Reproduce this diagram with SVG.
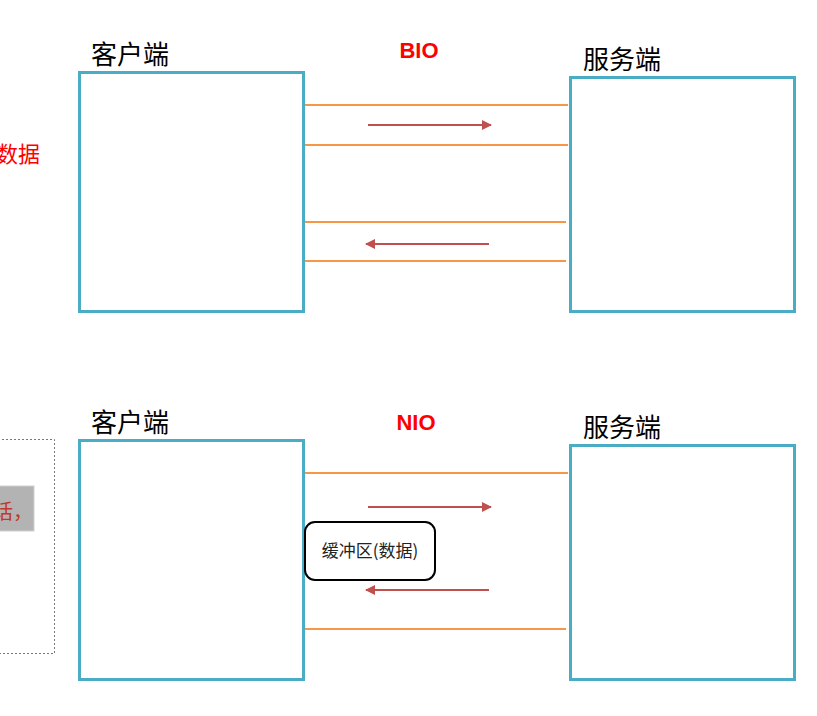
<svg xmlns="http://www.w3.org/2000/svg" width="817" height="716" viewBox="0 0 817 716">
<style>
.box{fill:#fff;stroke:#4BACC6;stroke-width:3}
.lbl{font-family:"Noto Sans CJK SC","Noto Sans",sans-serif;font-size:26px;fill:#000}
.title{font-family:"Liberation Sans","Noto Sans",sans-serif;font-weight:bold;font-size:22px;fill:#FF0000;text-anchor:middle}
.pipe{stroke:#F79646;stroke-width:2;fill:none}
.arr{stroke:#C0504D;stroke-width:2;fill:none;marker-end:url(#ah)}
</style>
<defs>
<marker id="ah" viewBox="0 0 10 10" refX="9" refY="5" markerWidth="5" markerHeight="5" orient="auto" markerUnits="strokeWidth">
<path d="M0,0 L10,5 L0,10 z" fill="#C0504D"/>
</marker>
</defs>
<rect width="817" height="716" fill="#fff"/>
<g id="side-notes">
<text x="-4" y="162" font-family="Noto Sans CJK SC,sans-serif" font-size="22" fill="#FF0000">数据</text>
<rect x="-10" y="439.5" width="64.5" height="214" fill="none" stroke="#777" stroke-width="1" stroke-dasharray="2,2"/>
<rect x="-10" y="486" width="44" height="45" fill="#B3B3B3" stroke="#D0D0D0" stroke-width="1"/>
<text x="-7" y="519" font-family="Noto Sans CJK SC,sans-serif" font-size="20" fill="#C0392B">话，</text>
</g>
<g id="bio">
<text class="title" x="419" y="58">BIO</text>
<g id="client-top"><rect class="box" x="79.5" y="72.5" width="224" height="239"/><text class="lbl" x="91" y="64">客户端</text></g>
<g id="server-top"><rect class="box" x="570.5" y="77.5" width="224" height="234"/><text class="lbl" x="583" y="69">服务端</text></g>
</g>
<g id="nio">
<text class="title" x="416" y="430">NIO</text>
<g id="client-bottom"><rect class="box" x="79.5" y="440.5" width="224" height="239"/><text class="lbl" x="91" y="432">客户端</text></g>
<g id="server-bottom"><rect class="box" x="570.5" y="445.5" width="224" height="234"/><text class="lbl" x="583" y="437">服务端</text></g>
<g id="buffer"><rect x="305" y="522" width="130" height="58" rx="10" fill="#fff" stroke="#000" stroke-width="2"/>
<text x="370" y="557" font-family="Noto Sans CJK SC,sans-serif" font-size="17" fill="#222" text-anchor="middle">缓冲区(数据)</text></g>
</g>
<g id="connectors">
<line class="pipe" x1="305" y1="105" x2="568" y2="105"/>
<line class="pipe" x1="305" y1="145" x2="568" y2="145"/>
<line class="pipe" x1="305" y1="222" x2="566" y2="222"/>
<line class="pipe" x1="305" y1="261" x2="566" y2="261"/>
<line class="arr" x1="368" y1="125" x2="491" y2="125"/>
<line class="arr" x1="489" y1="244" x2="366" y2="244"/>
<line class="pipe" x1="305" y1="473" x2="568" y2="473"/>
<line class="pipe" x1="305" y1="629" x2="566" y2="629"/>
<line class="arr" x1="368" y1="507" x2="491" y2="507"/>
<line class="arr" x1="489" y1="590" x2="366" y2="590"/>
</g>
</svg>
